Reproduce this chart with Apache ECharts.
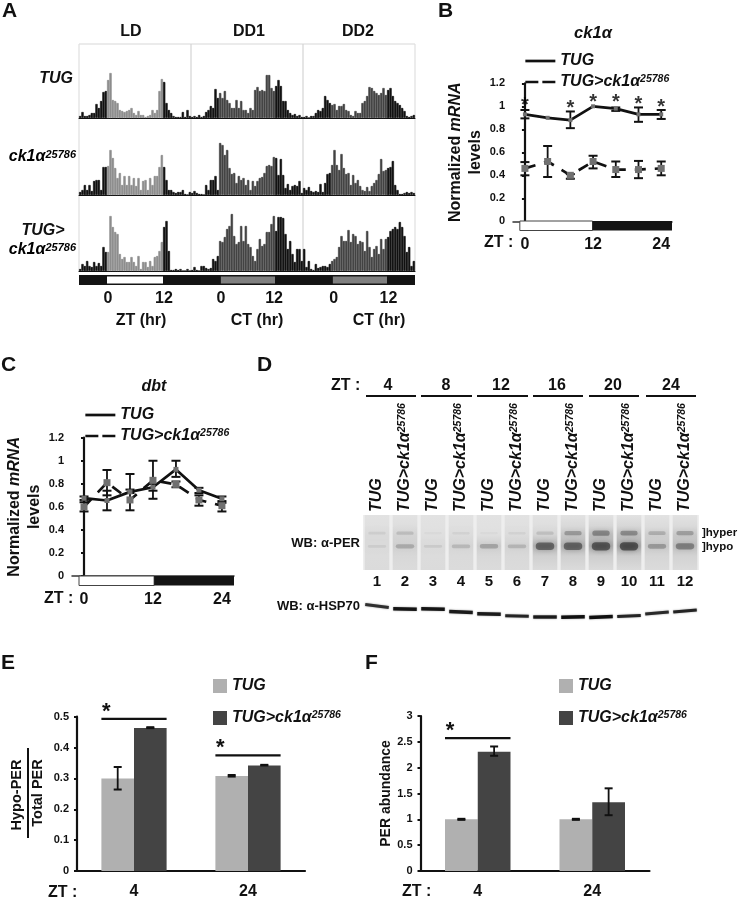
<!DOCTYPE html>
<html><head><meta charset="utf-8">
<style>html,body{margin:0;padding:0;background:#fff}#c{width:738px;height:900px}</style>
<script src="https://cdn.jsdelivr.net/npm/echarts@6/dist/echarts.min.js"></script>
</head><body><div id="c"></div>
<script>
// ---------- Panel A: activity histograms (half-hour bins) ----------
const activityTUG = [
 2,6,2,2,3,5,5,14,10,17,26,27,38,45,18,17,15,8,7,6,7,8,10,5,
 3,7,3,3,1,2,3,8,5,8,27,39,36,15,8,5,2,1,1,1,6,1,8,2,
 1,2,1,3,1,2,6,8,12,10,29,20,25,20,27,18,15,10,10,18,10,17,8,8,
 5,10,8,28,31,27,28,27,43,43,30,27,32,38,32,17,17,8,5,3,4,2,3,1,
 1,2,0,2,2,5,8,7,10,22,18,15,13,14,8,12,12,14,8,7,3,2,7,5,
 5,15,17,22,31,30,27,25,23,25,30,23,28,30,22,17,15,13,10,7,2,1,2,3];
const activityCk1 = [
 3,5,10,5,10,4,14,15,15,5,28,28,29,45,37,27,17,22,10,19,10,19,10,17,
 9,17,5,14,15,5,17,10,19,19,28,40,28,15,5,5,3,2,3,3,5,1,0,3,
 2,4,2,1,1,0,10,5,15,15,19,5,52,50,40,45,27,21,22,12,19,15,17,10,
 15,5,14,9,14,17,18,22,29,30,29,38,37,20,36,20,7,11,5,9,10,9,14,2,
 7,5,8,4,3,4,3,11,3,12,21,22,30,45,30,25,41,27,21,22,10,20,12,15,
 9,5,4,8,4,9,12,15,21,36,24,25,27,28,34,10,5,1,1,2,3,2,3,2];
const activityTUGCk1 = [
 2,7,5,10,5,4,9,5,8,5,24,19,19,55,44,39,37,17,12,14,9,9,14,9,
 5,15,2,9,9,4,10,5,14,15,20,29,44,50,20,1,1,2,1,2,0,0,2,0,
 1,4,1,0,5,5,3,2,3,12,10,15,30,29,34,42,45,57,35,27,29,45,30,45,
 27,24,15,10,22,32,25,27,39,39,47,55,40,54,54,53,37,22,30,17,9,22,22,10,
 22,4,10,2,1,7,3,4,5,5,4,7,10,12,14,24,35,30,30,41,29,37,35,27,
 30,29,20,40,24,14,22,25,17,32,22,32,34,40,42,44,42,49,44,35,19,24,5,10];
const activityBins = activityTUG.map((_, i) => i);
const phasesA = [[-6,66,0],[0,12,1],[24.4,36,2],[48.4,60,2]];
const tickHoursA = [0.2,12.2,24.4,35.8,48.6,60.3];
const tickLabelsA = ['0','12','0','12','0','12'];

// ---------- Panel B: ck1alpha mRNA ----------
const ztHours = [0,4,8,12,16,20,24];
const ztTickHours = [0,12,24];
const ck1TUG = [0.93,0.90,0.88,1.0,0.98,0.93,0.93];
const ck1TUGLow = [0.895,0.90,0.81,1.0,0.96,0.865,0.89];
const ck1TUGHigh = [0.968,0.90,0.955,1.0,0.99,0.99,0.968];
const ck1Mut = [0.46,0.52,0.40,0.52,0.45,0.45,0.46];
const ck1MutLow = [0.40,0.385,0.37,0.46,0.385,0.375,0.40];
const ck1MutHigh = [0.515,0.655,0.41,0.57,0.52,0.525,0.52];
const ck1Stars = [1.03,null,1.01,1.055,1.055,1.045,1.02];
const phasesB = [[-0.9,11.9,1],[11.9,25.9,0]];

// ---------- Panel C: dbt mRNA ----------
const dbtTUG = [0.675,0.655,0.73,0.77,0.925,0.745,0.67];
const dbtTUGLow = [0.64,0.57,0.72,0.74,0.86,0.72,0.65];
const dbtTUGHigh = [0.69,0.74,0.885,0.80,1.0,0.765,0.69];
const dbtMut = [0.60,0.81,0.66,0.83,0.795,0.66,0.61];
const dbtMutLow = [0.56,0.70,0.57,0.67,0.77,0.61,0.56];
const dbtMutHigh = [0.66,0.92,0.75,1.0,0.82,0.70,0.635];
const phasesC = [[-0.87,12.2,1],[12.2,26.1,0]];

// ---------- Panel D: western blot lanes ----------
const laneGenotypes = ['TUG','TUG>ck1α25786','TUG','TUG>ck1α25786','TUG','TUG>ck1α25786','TUG','TUG>ck1α25786','TUG','TUG>ck1α25786','TUG','TUG>ck1α25786'];
const laneNumbers = ['1','2','3','4','5','6','7','8','9','10','11','12'];
const perHypoSignal = [0.12,0.32,0.13,0.24,0.36,0.26,0.78,0.78,0.88,0.92,0.42,0.58];
const perHyperSignal = [0.13,0.24,0.05,0.09,0.06,0.09,0.22,0.48,0.62,0.58,0.34,0.44];
const hsp70Position = [8,11,11,14,16,18,19,19,19,18,15,13];
const hsp70Tilt = [3,0.5,0.5,1,0.5,0.5,0,-0.5,-1,-1,-2,-2];
const hsp70Signal = [0.7,0.95,0.95,0.9,0.9,0.8,0.9,1,1,0.8,0.75,0.8];
const ztGroups = ['4','8','12','16','20','24'];

// ---------- Panels E and F: bars ----------
const barGroups = ['4','24'];
const hypoTUG = [0.30,0.308];
const hypoTUGLow = [0.264,0.306];
const hypoTUGHigh = [0.337,0.311];
const hypoMut = [0.463,0.342];
const hypoMutLow = [0.463,0.342];
const hypoMutHigh = [0.466,0.344];
const perTUG = [1,1];
const perTUGLow = [0.99,0.99];
const perTUGHigh = [1.01,1.01];
const perMut = [2.31,1.33];
const perMutLow = [2.23,1.08];
const perMutHigh = [2.41,1.6];

const FONT = '"Liberation Sans", Arial, sans-serif';
const MUT = 'TUG>ck1α25786';
const richLabel = n => n === MUT ? '{i|TUG>ck1α}{s|25786}' : '{i|TUG}';
const richStyles = (f, s) => ({
  i:{fontFamily:FONT,fontWeight:'bold',fontStyle:'italic',fontSize:f,color:'#111'},
  s:{fontFamily:FONT,fontWeight:'bold',fontStyle:'italic',fontSize:s,color:'#111',verticalAlign:'top',lineHeight:f}
});

const chart = echarts.init(document.getElementById('c'), null, {renderer:'canvas', width:738, height:900});

const grids = [
 {left:79,top:44,width:336,height:74},
 {left:79,top:120,width:336,height:75},
 {left:79,top:196,width:336,height:75},
 {left:79,top:275,width:336,height:10},
 {left:513,top:83.3,width:159,height:138},
 {left:513,top:221,width:159,height:9.5},
 {left:72,top:437.7,width:162,height:138.3},
 {left:72,top:576,width:162,height:9.5},
 {left:363,top:515,width:336,height:55},
 {left:363,top:598,width:336,height:26},
 {left:77,top:716.7,width:228,height:155.6},
 {left:420.5,top:716,width:229,height:155.7}
];

const none = {show:false};
const hourAxis = (g,min,max) => ({type:'value',gridIndex:g,min,max,axisLine:none,axisTick:none,splitLine:none,axisLabel:none});
const axisLineThick = {show:true,lineStyle:{color:'#111',width:2.2}};
const boldLabel = s => ({fontFamily:FONT,fontWeight:'bold',fontSize:s,color:'#111'});

const xAxes = [
 ...[0,1,2].map(g => ({type:'category',gridIndex:g,data:activityBins,axisLine:{show:true,onZero:false,lineStyle:{color:'#111',width:1}},axisTick:none,axisLabel:none,splitLine:none})),
 {type:'value',gridIndex:3,min:-6,max:66,axisLine:none,axisTick:none,splitLine:none,
  axisLabel:{show:true,customValues:tickHoursA,formatter:(v)=>tickLabelsA[tickHoursA.indexOf(v)],margin:6,...boldLabel(16),hideOverlap:false}},
 {...hourAxis(4,-2.1,25.9),axisLine:{show:true,onZero:false,lineStyle:{color:'#333',width:1.5}}},
 {type:'value',gridIndex:5,min:-2.1,max:25.9,axisLine:none,axisTick:none,splitLine:none,
  axisLabel:{show:true,customValues:ztTickHours,margin:6,...boldLabel(16),showMinLabel:true,showMaxLabel:true}},
 {...hourAxis(6,-2.09,26.1),axisLine:{show:true,onZero:false,lineStyle:{color:'#333',width:1.5}}},
 {type:'value',gridIndex:7,min:-2.09,max:26.1,axisLine:none,axisTick:none,splitLine:none,
  axisLabel:{show:true,customValues:ztTickHours,margin:6,...boldLabel(16),showMinLabel:true,showMaxLabel:true}},
 {type:'category',gridIndex:8,position:'top',data:laneGenotypes,axisLine:none,axisTick:none,splitLine:none,
  axisLabel:{show:true,interval:0,rotate:90,margin:3,formatter:richLabel,rich:richStyles(16,10.5)}},
 {type:'category',gridIndex:8,position:'bottom',data:laneNumbers,axisLine:none,axisTick:none,splitLine:none,
  axisLabel:{show:true,interval:0,margin:4,...boldLabel(15)}},
 {type:'category',gridIndex:9,data:laneNumbers,axisLine:none,axisTick:none,axisLabel:none,splitLine:none},
 {type:'category',gridIndex:10,data:barGroups,axisLine:axisLineThick,axisTick:none,axisLabel:{show:true,margin:13,...boldLabel(16)},splitLine:none},
 {type:'category',gridIndex:11,data:barGroups,axisLine:axisLineThick,axisTick:none,axisLabel:{show:true,margin:13,...boldLabel(16)},splitLine:none}
];

const tickAxis = (g,max,interval,extra) => Object.assign({type:'value',gridIndex:g,min:0,max,interval,
  axisLine:axisLineThick,axisTick:{show:true,length:3,lineStyle:{color:'#111',width:2}},splitLine:none,
  axisLabel:{show:true,margin:8,...boldLabel(11)}},extra||{});
const mrnaName = {name:'{b|Normalized }{bi|mRNA}\n{b|levels}',nameLocation:'middle',nameRotate:90,
  nameTextStyle:{lineHeight:20,rich:{b:{fontFamily:FONT,fontWeight:'bold',fontSize:16,color:'#111',lineHeight:20},bi:{fontFamily:FONT,fontWeight:'bold',fontStyle:'italic',fontSize:16,color:'#111',lineHeight:20}}}};
const hiddenY = (g,max,extra) => Object.assign({type:'value',gridIndex:g,min:0,max,axisLine:none,axisTick:none,axisLabel:none,splitLine:none},extra||{});

const yAxes = [
 hiddenY(0,74),hiddenY(1,75),hiddenY(2,75),hiddenY(3,1),
 tickAxis(4,1.2,0.2,{...mrnaName,nameGap:25}),
 hiddenY(5,1),
 tickAxis(6,1.2,0.2,{...mrnaName,nameGap:26}),
 hiddenY(7,1),
 hiddenY(8,1),
 hiddenY(9,26,{inverse:true}),
 tickAxis(10,0.5,0.1),
 tickAxis(11,3,0.5,{name:'PER abundance',nameLocation:'middle',nameGap:21,nameRotate:90,nameTextStyle:boldLabel(14)})
];

// --- render helpers (marks placed by the axes via api.coord) ---
const phaseFill = ['#141414','#ffffff','#808080'];
function stripSeries(x,y,phases,bordered){
  return {type:'custom',coordinateSystem:'cartesian2d',xAxisIndex:x,yAxisIndex:y,silent:true,data:phases,
    renderItem(p,api){
      const a=api.coord([api.value(0),1]), b=api.coord([api.value(1),0]), k=api.value(2);
      const inset = (!bordered && k!==0) ? 1.5 : 0;
      return {type:'rect',shape:{x:a[0],y:a[1]+inset,width:b[0]-a[0],height:b[1]-a[1]-2*inset},
        style:{fill:phaseFill[k],stroke:bordered&&k===1?'#444':null,lineWidth:bordered&&k===1?1:0}};
    }};
}
function errorSeries(x,y,hours,low,high,dxFrac){
  return {type:'custom',coordinateSystem:'cartesian2d',xAxisIndex:x,yAxisIndex:y,silent:true,z:2,
    data:hours.map((h,i)=>[h,low[i],high[i]]),
    renderItem(p,api){
      const band = dxFrac ? api.size([1,0])[0]*dxFrac : 0;
      const a=api.coord([api.value(0),api.value(2)]), b=api.coord([api.value(0),api.value(1)]);
      if (Math.abs(a[1]-b[1])<0.5) return null;
      const xx=a[0]+band, cap=dxFrac?4:4.5;
      return {type:'group',children:[
        {type:'line',shape:{x1:xx,y1:a[1],x2:xx,y2:b[1]},style:{stroke:'#111',lineWidth:1.8}},
        {type:'line',shape:{x1:xx-cap,y1:a[1],x2:xx+cap,y2:a[1]},style:{stroke:'#111',lineWidth:2}},
        {type:'line',shape:{x1:xx-cap,y1:b[1],x2:xx+cap,y2:b[1]},style:{stroke:'#111',lineWidth:2}}
      ]};
    }};
}
function lineSeries(name,x,y,vals,dashed,mSize){
  return {type:'line',name,xAxisIndex:x,yAxisIndex:y,z:3,silent:true,
    data:ztHours.map((h,i)=>[h,vals[i]]),symbol:'rect',symbolSize:mSize,showSymbol:true,
    itemStyle:{color:'#707070'},lineStyle:{color:'#111',width:2.7,type:dashed?[11,9]:'solid'},animation:false};
}
function barSeries(name,x,y,vals,color){
  return {type:'bar',name,xAxisIndex:x,yAxisIndex:y,data:vals,barWidth:'28.6%',barGap:'0%',silent:true,itemStyle:{color},z:1};
}
function sigSeries(x,y,groups){
  return {type:'custom',coordinateSystem:'cartesian2d',xAxisIndex:x,yAxisIndex:y,silent:true,z:4,data:groups,
    renderItem(p,api){
      const c=api.coord([api.value(0),api.value(1)]), half=api.size([1,0])[0]*0.286;
      return {type:'group',children:[
        {type:'line',shape:{x1:c[0]-half,y1:c[1],x2:c[0]+half,y2:c[1]},style:{stroke:'#111',lineWidth:2.2}},
        {type:'text',style:{text:'*',x:c[0]-half+5,y:c[1]-7,align:'center',verticalAlign:'middle',font:'bold 22px '+FONT,fill:'#111'}}
      ]};
    }};
}
const actColor = i => (i>=12&&i<36)?'#8e8e8e':((i>=60&&i<84)||(i>=108&&i<132))?'#444444':'#111111';
function actSeries(g,vals){
  return {type:'bar',xAxisIndex:g,yAxisIndex:g,barWidth:'100%',barCategoryGap:'0%',silent:true,
    data:vals.map((v,i)=>({value:v,itemStyle:{color:actColor(i),borderColor:actColor(i),borderWidth:0.7}}))};
}
function blotShade(d){const v=Math.round(230-d*190);return 'rgb('+v+','+v+','+v+')';}
const bandBlob = (cx,cy,w,h,a) => ({type:'rect',shape:{x:cx-w/2,y:cy-h/2,width:w,height:h,r:h/2},
  style:{fill:'rgba(25,25,25,'+a+')',shadowColor:'rgba(25,25,25,'+a+')',shadowBlur:5}});
const blotSeries = {type:'custom',coordinateSystem:'cartesian2d',xAxisIndex:8,yAxisIndex:8,silent:true,
  data:laneNumbers.map((_,i)=>[i,perHypoSignal[i],perHyperSignal[i]]),
  renderItem(p,api){
    const i=api.value(0),hypo=api.value(1),hyper=api.value(2);
    const c=api.coord([i,1]),b=api.coord([i,0]),w=api.size([1,0])[0],h=b[1]-c[1];
    return {type:'group',children:[
      {type:'rect',shape:{x:c[0]-w/2,y:c[1],width:w,height:h},style:{fill:'#eeeeee'}},
      {type:'rect',shape:{x:c[0]-w*0.44,y:c[1],width:w*0.88,height:h},style:{fill:new echarts.graphic.LinearGradient(0,0,0,1,[
        {offset:0,color:blotShade(0.02)},
        {offset:0.2,color:blotShade(0.02+hyper*0.1)},
        {offset:0.36,color:blotShade(hyper*0.3+0.02)},
        {offset:0.56,color:blotShade(hypo*0.3+0.02)},
        {offset:0.75,color:blotShade(hypo*0.1+0.04)},
        {offset:1,color:blotShade(0.06)}
      ])}},
      bandBlob(c[0],c[1]+h*0.33,w*0.62,2+hyper*5,(hyper*0.55).toFixed(2)),
      bandBlob(c[0],c[1]+h*0.57,w*0.66,2+hypo*7,(hypo*0.62).toFixed(2))
    ]};
  }};
const hspSeries = {type:'custom',coordinateSystem:'cartesian2d',xAxisIndex:10,yAxisIndex:9,silent:true,
  data:laneNumbers.map((_,i)=>[i,hsp70Position[i],hsp70Tilt[i],hsp70Signal[i]]),
  renderItem(p,api){
    const i=api.value(0),pos=api.value(1),t=api.value(2),s=api.value(3);
    const w=api.size([1,0])[0]*0.42;
    const c=api.coord([i,pos]);
    const dy=api.size([0,1])[1]*t/2;
    const v=Math.round(120-s*105);
    return {type:'line',shape:{x1:c[0]-w,y1:c[1]-dy,x2:c[0]+w,y2:c[1]+dy},
      style:{stroke:'rgb('+v+','+v+','+v+')',lineWidth:2.2+s*1.3,shadowBlur:2,shadowColor:'rgba(0,0,0,0.4)'}};
  }};
const starSeries = {type:'scatter',xAxisIndex:4,yAxisIndex:4,silent:true,z:5,symbolSize:1,itemStyle:{color:'transparent'},
  data:ztHours.map((h,i)=>[h,ck1Stars[i]]).filter(d=>d[1]!==null),
  label:{show:true,position:'inside',formatter:'*',offset:[0,3],fontFamily:FONT,fontWeight:'bold',fontSize:20,color:'#000'}};

const series = [
 actSeries(0,activityTUG),actSeries(1,activityCk1),actSeries(2,activityTUGCk1),
 stripSeries(3,3,phasesA,false),
 errorSeries(4,4,ztHours,ck1TUGLow,ck1TUGHigh),errorSeries(4,4,ztHours,ck1MutLow,ck1MutHigh),
 lineSeries('TUG',4,4,ck1TUG,false,4),lineSeries(MUT,4,4,ck1Mut,true,7),
 starSeries,
 stripSeries(5,5,phasesB,true),
 errorSeries(6,6,ztHours,dbtMutLow,dbtMutHigh),errorSeries(6,6,ztHours,dbtTUGLow,dbtTUGHigh),
 lineSeries(MUT,6,6,dbtMut,true,7),lineSeries('TUG',6,6,dbtTUG,false,5),
 stripSeries(7,7,phasesC,true),
 blotSeries,hspSeries,
 barSeries('TUG',11,10,hypoTUG,'#b0b0b0'),barSeries(MUT,11,10,hypoMut,'#444444'),
 errorSeries(11,10,[0,1],hypoTUGLow,hypoTUGHigh,-0.143),errorSeries(11,10,[0,1],hypoMutLow,hypoMutHigh,0.143),
 sigSeries(11,10,[[0,0.493],[1,0.375]]),
 barSeries('TUG',12,11,perTUG,'#b0b0b0'),barSeries(MUT,12,11,perMut,'#444444'),
 errorSeries(12,11,[0,1],perTUGLow,perTUGHigh,-0.143),errorSeries(12,11,[0,1],perMutLow,perMutHigh,0.143),
 sigSeries(12,11,[[0,2.57]])
];

const lineLegend = (left,top) => ({left,top,padding:0,orient:'vertical',itemWidth:30,itemHeight:14,itemGap:5,selectedMode:false,
  formatter:richLabel,textStyle:{rich:richStyles(16,10.5)},itemStyle:{},
  data:[
   {name:'TUG',itemStyle:{color:'transparent',borderWidth:0},lineStyle:{color:'#111',width:2.7,type:'solid'}},
   {name:MUT,itemStyle:{color:'transparent',borderWidth:0},lineStyle:{color:'#111',width:2.7,type:[13,4]}}
  ]});
const barLegend = (left,top) => ({left,top,padding:0,orient:'vertical',itemWidth:14,itemHeight:14,itemGap:16,selectedMode:false,
  formatter:richLabel,textStyle:{rich:richStyles(16,10.5)},
  data:[
   {name:'TUG',icon:'rect',itemStyle:{color:'#b0b0b0'}},
   {name:MUT,icon:'rect',itemStyle:{color:'#444444'}}
  ]});

// ---------- text and rules that are not marks ----------
const T = (x,y,text,font,align) => ({type:'text',silent:true,style:{x,y,text,font:font+' '+FONT,fill:'#111',align:align||'center',verticalAlign:'middle'}});
const R = (x,y,text,size,sup,align) => ({type:'text',silent:true,style:{x,y,text,align:align||'left',verticalAlign:'middle',rich:richStyles(size,sup)}});
const L = (x1,y1,x2,y2,c,w) => ({type:'line',silent:true,shape:{x1,y1,x2,y2},style:{stroke:c,lineWidth:w}});
const letter = 'bold 21px';
const b16 = 'bold 16px';
const zGroupX = [388,446,501,557,613,671];
const zRule = [[366,416],[421,472],[477,528],[533,583],[589,639],[646,696]];
const graphics = [
 L(79,44,415,44,'#d8d8d8',1.2),L(79,44,79,272,'#e0e0e0',1.2),L(191,44,191,272,'#d4d4d4',1.2),L(303,44,303,272,'#d4d4d4',1.2),L(415,44,415,272,'#e0e0e0',1.2),
 T(2,11,'A',letter,'left'),T(438,11,'B',letter,'left'),T(1,365,'C',letter,'left'),T(257,365,'D',letter,'left'),T(1,663,'E',letter,'left'),T(365,663,'F',letter,'left'),
 T(131,32,'LD',b16),T(249,32,'DD1',b16),T(358,32,'DD2',b16),
 T(73,79,'TUG','italic bold 16px','right'),
 R(76,157,'{i|ck1α}{s|25786}',16,11,'right'),
 T(43,231,'TUG>','italic bold 16px'),
 R(76,250,'{i|ck1α}{s|25786}',16,11,'right'),
 T(141,321,'ZT (hr)',b16),T(257,321,'CT (hr)',b16),T(379,321,'CT (hr)',b16),
 T(593,33,'ck1α','italic bold 16.5px'),T(154,387,'dbt','italic bold 16px'),
 T(484,243,'ZT :',b16,'left'),T(44,599,'ZT :',b16,'left'),
 T(331,386,'ZT :',b16,'left'),
 ...ztGroups.map((z,i)=>T(zGroupX[i],386,z,b16)),
 ...zRule.map(r=>L(r[0],396,r[1],396,'#111',2)),
 T(360,543,'WB: α-PER','bold 13px','right'),T(360,606,'WB: α-HSP70','bold 13px','right'),
 T(702,533,']hyper','bold 11.5px','left'),T(702,547,']hypo','bold 11.5px','left'),
 {type:'text',silent:true,rotation:Math.PI/2,x:17,y:795,style:{text:'Hypo-PER',font:'bold 14.5px '+FONT,fill:'#111',align:'center',verticalAlign:'middle'}},
 {type:'text',silent:true,rotation:Math.PI/2,x:38,y:793,style:{text:'Total PER',font:'bold 14.5px '+FONT,fill:'#111',align:'center',verticalAlign:'middle'}},
 L(28,748,28,838,'#111',2),
 T(48,893,'ZT :',b16,'left'),T(402,892,'ZT :',b16,'left')
];

chart.setOption({
  animation:false,backgroundColor:'#fff',textStyle:{fontFamily:FONT},
  grid:grids.map(g=>({...g,containLabel:false})),
  xAxis:xAxes,yAxis:yAxes,series,
  legend:[lineLegend(524,53),lineLegend(84,407),barLegend(213,678),barLegend(559,678)],
  graphic:graphics
});
</script></body></html>
